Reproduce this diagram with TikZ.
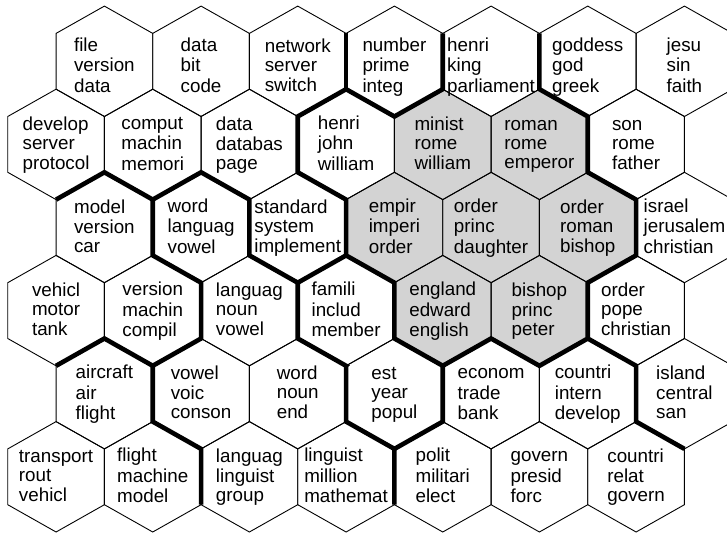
\documentclass[tikz,border=0pt]{standalone}
\usepackage{fontspec}
\setmainfont{Liberation Sans}
\definecolor{cellgray}{RGB}{211,211,211}
\tikzset{
  thinline/.style={draw=black,line width=0.9pt,line join=miter},
  border/.style={draw=black,line width=4.6pt,line join=miter,line cap=butt},
  cell/.style={inner sep=0pt,align=left,font=\fontsize{18.8}{19}\selectfont,yshift=-1.5pt},
  toprow/.style={cell,yshift=-5pt},
  grayhex/.style={fill=cellgray}
}
\newcommand\hexpath[1]{(#1-n) -- (#1-ne) -- (#1-se) -- (#1-s) -- (#1-sw) -- (#1-nw) -- cycle}
\newcommand\three[3]{\strut#1\\\strut#2\\\strut#3}
\begin{document}
\begin{tikzpicture}[x=1pt,y=-1pt]
\clip (0,0) rectangle (727,534);
\fill[white] (0,0) rectangle (727,534);
% hex grid coordinates
\foreach \r in {0,...,5}{
  \foreach \c in {0,...,6}{
    \pgfmathsetmacro\cx{(mod(\r,2)==0 ? 104.4 : 56.07)+96.67*\c}
    \pgfmathsetmacro\cy{61.3+83.1*\r}
    \coordinate (h\r\c) at (\cx,\cy);
    \coordinate (h\r\c-n) at (\cx,\cy-55.2);
    \coordinate (h\r\c-ne) at (\cx+48.33,\cy-27.9);
    \coordinate (h\r\c-se) at (\cx+48.33,\cy+27.9);
    \coordinate (h\r\c-s) at (\cx,\cy+55.2);
    \coordinate (h\r\c-sw) at (\cx-48.33,\cy+27.9);
    \coordinate (h\r\c-nw) at (\cx-48.33,\cy-27.9);
  }
}
% gray cells
\foreach \h in {h14,h15,h23,h24,h25,h34,h35}{
  \fill[grayhex] \hexpath{\h};
}
% thin outlines
\foreach \r in {0,...,5}{
  \foreach \c in {0,...,6}{
    \draw[thinline] \hexpath{h\r\c};
  }
}
% thick cluster borders
\draw[border] (h02-ne) -- (h02-se);
\draw[border] (h03-ne) -- (h03-se) -- (h03-s) -- (h03-sw) -- (h13-nw) -- (h13-sw) -- (h13-s) -- (h22-se) -- (h23-s) -- (h33-se) -- (h34-s) -- (h34-se) -- (h35-s) -- (h35-se) -- (h35-ne) -- (h25-se) -- (h25-ne) -- (h16-sw) -- (h16-nw) -- (h05-sw) -- (h05-nw);
\draw[border] (h35-se) -- (h36-s) -- (h45-se) -- (h46-s);
\draw[border] (h20-nw) -- (h20-n) -- (h21-nw) -- (h21-n) -- (h22-nw) -- (h22-sw) -- (h22-s) -- (h22-se);
\draw[border] (h22-s) -- (h33-sw) -- (h33-s) -- (h43-nw) -- (h43-sw) -- (h43-s) -- (h43-se) -- (h44-nw);
\draw[border] (h43-s) -- (h54-sw);
\draw[border] (h20-ne) -- (h20-se) -- (h21-s) -- (h31-se) -- (h31-s) -- (h31-sw) -- (h30-s);
\draw[border] (h31-s) -- (h40-se) -- (h41-s) -- (h51-se);
% labels
\node[toprow] (t00) at (h00) {\three{file}{version}{data}};
\node[toprow] (t01) at (h01) {\three{data}{bit}{code}};
\node[toprow] (t02) at (h02) {\three{network}{server}{switch}};
\node[toprow] (t03) at (h03) {\three{number}{prime}{integ}};
\node[toprow] (t04) at (h04) {\three{henri}{king}{parliament}};
\node[toprow] (t05) at (h05) {\three{goddess}{god}{greek}};
\node[toprow] (t06) at (h06) {\three{jesu}{sin}{faith}};
\node[cell] (t10) at (h10) {\three{develop}{server}{protocol}};
\node[cell] (t11) at (h11) {\three{comput}{machin}{memori}};
\node[cell] (t12) at (h12) {\three{data}{databas}{page}};
\node[cell] (t13) at (h13) {\three{henri}{john}{william}};
\node[cell] (t14) at (h14) {\three{minist}{rome}{william}};
\node[cell] (t15) at (h15) {\three{roman}{rome}{emperor}};
\node[cell] (t16) at (h16) {\three{son}{rome}{father}};
\node[cell] (t20) at (h20) {\three{model}{version}{car}};
\node[cell] (t21) at (h21) {\three{word}{languag}{vowel}};
\node[cell] (t22) at (h22) {\three{standard}{system}{implement}};
\node[cell] (t23) at (h23) {\three{empir}{imperi}{order}};
\node[cell] (t24) at (h24) {\three{order}{princ}{daughter}};
\node[cell] (t25) at (h25) {\three{order}{roman}{bishop}};
\node[cell] (t26) at (h26) {\three{israel}{jerusalem}{christian}};
\node[cell] (t30) at (h30) {\three{vehicl}{motor}{tank}};
\node[cell] (t31) at (h31) {\three{version}{machin}{compil}};
\node[cell] (t32) at (h32) {\three{languag}{noun}{vowel}};
\node[cell] (t33) at (h33) {\three{famili}{includ}{member}};
\node[cell] (t34) at (h34) {\three{england}{edward}{english}};
\node[cell] (t35) at (h35) {\three{bishop}{princ}{peter}};
\node[cell] (t36) at (h36) {\three{order}{pope}{christian}};
\node[cell] (t40) at (h40) {\three{aircraft}{air}{flight}};
\node[cell] (t41) at (h41) {\three{vowel}{voic}{conson}};
\node[cell] (t42) at (h42) {\three{word}{noun}{end}};
\node[cell] (t43) at (h43) {\three{est}{year}{popul}};
\node[cell] (t44) at (h44) {\three{econom}{trade}{bank}};
\node[cell] (t45) at (h45) {\three{countri}{intern}{develop}};
\node[cell] (t46) at (h46) {\three{island}{central}{san}};
\node[cell] (t50) at (h50) {\three{transport}{rout}{vehicl}};
\node[cell] (t51) at (h51) {\three{flight}{machine}{model}};
\node[cell] (t52) at (h52) {\three{languag}{linguist}{group}};
\node[cell] (t53) at (h53) {\three{linguist}{million}{mathemat}};
\node[cell] (t54) at (h54) {\three{polit}{militari}{elect}};
\node[cell] (t55) at (h55) {\three{govern}{presid}{forc}};
\node[cell] (t56) at (h56) {\three{countri}{relat}{govern}};
\end{tikzpicture}
\end{document}
